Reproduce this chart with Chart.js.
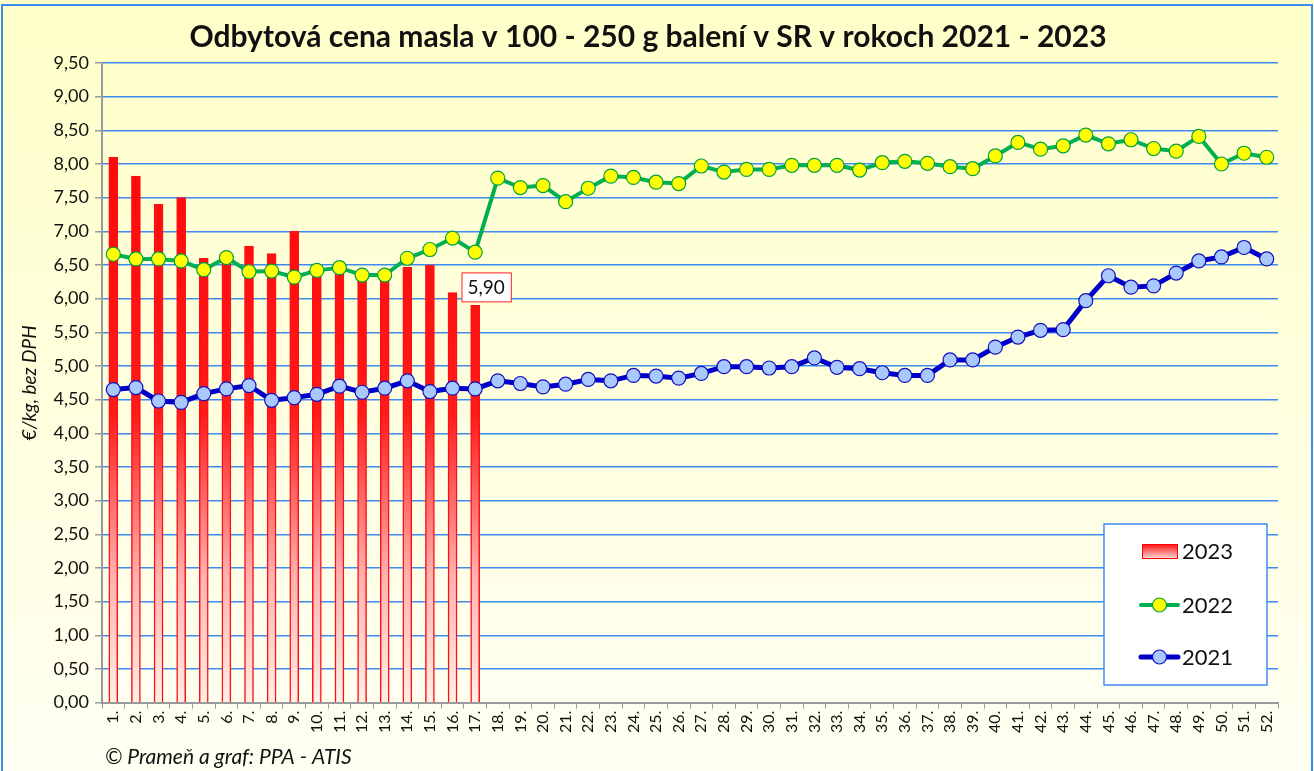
<!DOCTYPE html>
<html>
<head>
<meta charset="utf-8">
<script src="https://cdn.jsdelivr.net/npm/chart.js@4"></script>
<style>
    html, body { margin: 0; padding: 0; background: #ffffff; }
    #wrap { width: 1314px; height: 771px; position: relative; }
</style>
</head>
<body>
<div id="wrap"><canvas id="chart" width="1314" height="771"></canvas></div>
<script>
// Weekly butter prices (EUR/kg, excl. VAT).
const weeks = [
    '1.', '2.', '3.', '4.', '5.', '6.', '7.', '8.', '9.', '10.',
    '11.', '12.', '13.', '14.', '15.', '16.', '17.', '18.', '19.', '20.',
    '21.', '22.', '23.', '24.', '25.', '26.', '27.', '28.', '29.', '30.',
    '31.', '32.', '33.', '34.', '35.', '36.', '37.', '38.', '39.', '40.',
    '41.', '42.', '43.', '44.', '45.', '46.', '47.', '48.', '49.', '50.',
    '51.', '52.'
];

const price2023 = [
    8.10, 7.82, 7.40, 7.50, 6.60, 6.58, 6.78, 6.67, 7.00, 6.40,
    6.44, 6.30, 6.30, 6.47, 6.50, 6.09, 5.90
];

const price2022 = [
    6.66, 6.59, 6.59, 6.56, 6.43, 6.61, 6.40, 6.41, 6.32, 6.42,
    6.46, 6.35, 6.35, 6.60, 6.73, 6.90, 6.69, 7.79, 7.65, 7.68,
    7.44, 7.64, 7.82, 7.80, 7.73, 7.71, 7.97, 7.88, 7.92, 7.92,
    7.98, 7.98, 7.98, 7.91, 8.02, 8.04, 8.01, 7.96, 7.93, 8.12,
    8.32, 8.22, 8.27, 8.43, 8.30, 8.36, 8.23, 8.19, 8.41, 8.00,
    8.16, 8.10
];

const price2021 = [
    4.65, 4.68, 4.48, 4.46, 4.59, 4.66, 4.71, 4.49, 4.53, 4.58,
    4.70, 4.61, 4.67, 4.78, 4.62, 4.67, 4.66, 4.78, 4.74, 4.69,
    4.73, 4.80, 4.78, 4.86, 4.85, 4.82, 4.89, 4.99, 4.99, 4.97,
    4.99, 5.12, 4.98, 4.96, 4.90, 4.86, 4.86, 5.09, 5.09, 5.28,
    5.43, 5.53, 5.54, 5.97, 6.34, 6.17, 6.19, 6.38, 6.56, 6.62,
    6.76, 6.59
];

const FONT = 'Lato, "Open Sans", sans-serif';
const fmt = (v) => v.toFixed(2).replace('.', ',');

// page background, frame, footer, custom legend and the value callout
const decorations = {
    id: 'decorations',
    beforeDraw(chart) {
        const { ctx, width, height, chartArea } = chart;
        ctx.save();
        const bg = ctx.createLinearGradient(0, 0, 0, height);
        bg.addColorStop(0, '#ffffc8');
        bg.addColorStop(1, '#fffff2');
        ctx.fillStyle = bg;
        ctx.fillRect(0, 0, width, height);

        const area = ctx.createLinearGradient(0, chartArea.top, 0, chartArea.bottom);
        area.addColorStop(0, '#ffffcc');
        area.addColorStop(1, '#fffff0');
        ctx.fillStyle = area;
        ctx.fillRect(chartArea.left, chartArea.top, chartArea.right - chartArea.left, chartArea.bottom - chartArea.top);

        ctx.strokeStyle = '#3c8cf0';
        ctx.lineWidth = 2;
        ctx.strokeRect(2, 5, width - 4, height - 4);
        ctx.restore();
    },
    afterDraw(chart) {
        const { ctx } = chart;
        ctx.save();

        // footer
        ctx.font = 'italic 21px ' + FONT;
        ctx.fillStyle = '#111';
        ctx.textBaseline = 'middle';
        ctx.textAlign = 'left';
        ctx.fillText('© Prameň a graf: PPA - ATIS', 105, 757);

        // callout for the last 2023 value
        const barMeta = chart.getDatasetMeta(0);
        const last = barMeta.data[barMeta.data.length - 1];
        if (last) {
            const text = fmt(price2023[price2023.length - 1]);
            ctx.font = '19px ' + FONT;
            const w = ctx.measureText(text).width + 12;
            const cx = last.x + 11, cy = last.y - 19;
            ctx.fillStyle = '#ffffff';
            ctx.fillRect(cx - w / 2, cy - 14, w, 29);
            ctx.strokeStyle = '#ff2020';
            ctx.lineWidth = 1;
            ctx.strokeRect(cx - w / 2 + 0.5, cy - 14 + 0.5, w, 29);
            ctx.fillStyle = '#111';
            ctx.textAlign = 'center';
            ctx.fillText(text, cx, cy + 1);
        }

        // legend box
        const bx = 1104, by = 524, bw = 163, bh = 161;
        ctx.fillStyle = '#ffffff';
        ctx.fillRect(bx, by, bw, bh);
        ctx.strokeStyle = '#3c8cf0';
        ctx.lineWidth = 1.5;
        ctx.strokeRect(bx, by, bw, bh);

        ctx.font = '22px ' + FONT;
        ctx.textAlign = 'left';
        const rows = [551, 605, 657];
        chart.data.datasets.forEach((ds, i) => {
            const y = rows[i];
            if (ds.type === 'bar') {
                const g = ctx.createLinearGradient(0, y - 7, 0, y + 7);
                g.addColorStop(0, '#ff1010');
                g.addColorStop(1, '#ffd0d0');
                ctx.fillStyle = g;
                ctx.fillRect(1142, y - 7, 35, 14);
                ctx.strokeStyle = '#ff0000';
                ctx.lineWidth = 1;
                ctx.strokeRect(1142.5, y - 6.5, 35, 14);
            } else {
                ctx.strokeStyle = ds.borderColor;
                ctx.lineWidth = ds.borderWidth;
                ctx.lineCap = 'round';
                ctx.beginPath();
                ctx.moveTo(1141, y);
                ctx.lineTo(1178, y);
                ctx.stroke();
                ctx.beginPath();
                ctx.arc(1159.5, y, 7, 0, Math.PI * 2);
                ctx.fillStyle = ds.pointBackgroundColor;
                ctx.fill();
                ctx.lineWidth = 1.2;
                ctx.strokeStyle = ds.pointBorderColor;
                ctx.stroke();
            }
            ctx.fillStyle = '#111';
            ctx.fillText(ds.label, 1182, y + 1);
        });
        ctx.restore();
    }
};

function barFill(context) {
    const area = context.chart.chartArea;
    if (!area) {
        return '#ff0000';
    }
    const g = context.chart.ctx.createLinearGradient(0, area.top, 0, area.bottom);
    g.addColorStop(0, '#ff0000');
    g.addColorStop(0.55, '#ff1a1a');
    g.addColorStop(0.8, '#ffb0b0');
    g.addColorStop(1, '#fff0e6');
    return g;
}

new Chart(document.getElementById('chart'), {
    data: {
        labels: weeks,
        datasets: [
            {
                type: 'bar',
                label: '2023',
                data: price2023,
                backgroundColor: barFill,
                borderColor: '#ff1010',
                borderWidth: 1.5,
                barThickness: 9,
                order: 3
            },
            {
                type: 'line',
                label: '2022',
                data: price2022,
                borderColor: '#00b050',
                borderWidth: 4,
                pointRadius: 7,
                pointBackgroundColor: '#ffff00',
                pointBorderColor: '#00a040',
                pointBorderWidth: 1.2,
                order: 2
            },
            {
                type: 'line',
                label: '2021',
                data: price2021,
                borderColor: '#0000c8',
                borderWidth: 5,
                pointRadius: 7,
                pointBackgroundColor: '#a9c8ff',
                pointBorderColor: '#1010c0',
                pointBorderWidth: 1.2,
                order: 1
            }
        ]
    },
    options: {
        responsive: false,
        animation: false,
        layout: {
            padding: { left: 18, right: 36, top: 0, bottom: 36 }
        },
        scales: {
            x: {
                offset: true,
                grid: {
                    display: true,
                    offset: true,
                    drawOnChartArea: false,
                    drawTicks: true,
                    tickLength: 6,
                    color: '#9a9a9a'
                },
                border: { color: '#9a9a9a', width: 2 },
                ticks: {
                    maxRotation: 90,
                    minRotation: 90,
                    autoSkip: false,
                    color: '#111',
                    padding: 2,
                    font: { family: FONT, size: 16 }
                }
            },
            y: {
                min: 0,
                max: 9.5,
                afterFit(scale) { scale.width = 84; },
                grid: {
                    color: '#3c8cf0',
                    lineWidth: 1.5,
                    tickColor: '#9a9a9a',
                    tickLength: 7
                },
                border: { color: '#9a9a9a', width: 2 },
                title: {
                    display: true,
                    text: '€/kg, bez DPH',
                    color: '#111',
                    font: { family: FONT, size: 19, style: 'italic' },
                    padding: 0
                },
                ticks: {
                    stepSize: 0.5,
                    color: '#111',
                    padding: 6,
                    font: { family: FONT, size: 18 },
                    callback: (v) => fmt(v)
                }
            }
        },
        plugins: {
            legend: { display: false },
            tooltip: { enabled: false },
            title: {
                display: true,
                text: 'Odbytová cena masla v 100 - 250 g balení v SR v rokoch 2021 - 2023',
                color: '#111',
                font: { family: FONT, size: 30, weight: 'bold' },
                padding: { top: 19, bottom: 8 }
            }
        }
    },
    plugins: [decorations]
});
</script>
</body>
</html>
